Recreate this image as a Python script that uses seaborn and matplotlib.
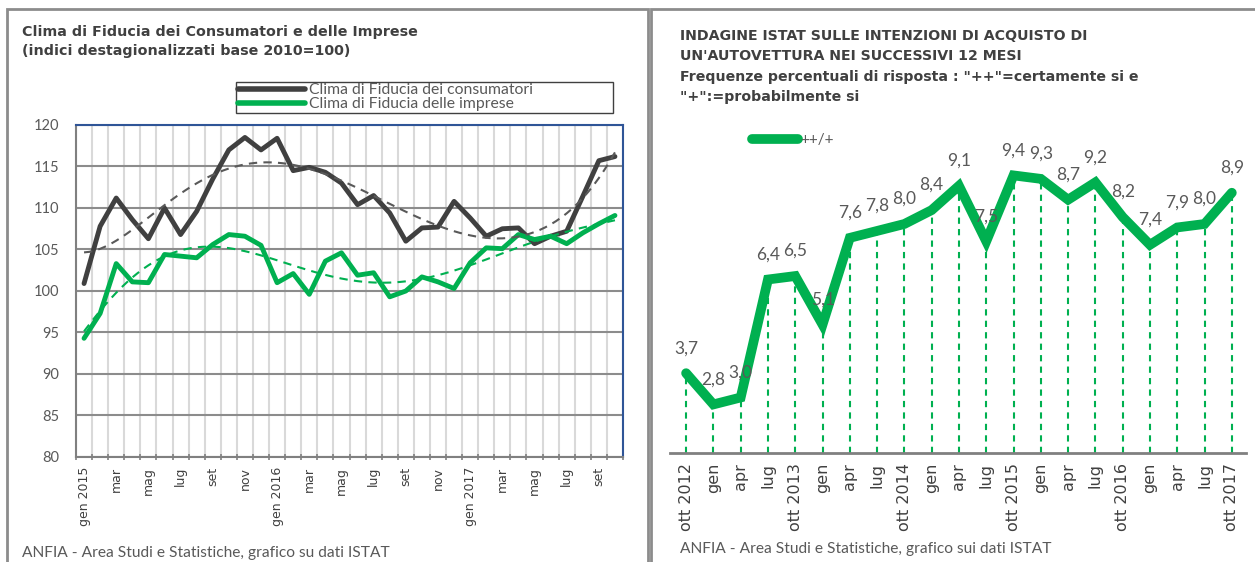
import numpy as np
import pandas as pd
import seaborn as sns
import matplotlib.pyplot as plt
from matplotlib.patches import Rectangle
from matplotlib.lines import Line2D

# --- dati pannello sinistro: clima di fiducia, gen 2015 - ott 2017 (mensili)
mesi = ["gen 2015", "feb", "mar", "apr", "mag", "giu", "lug", "ago", "set", "ott", "nov", "dic",
        "gen 2016", "feb", "mar", "apr", "mag", "giu", "lug", "ago", "set", "ott", "nov", "dic",
        "gen 2017", "feb", "mar", "apr", "mag", "giu", "lug", "ago", "set", "ott"]
consumatori = [100.9, 107.8, 111.2, 108.6, 106.3, 110.0, 106.8, 109.6, 113.5, 117.0, 118.5, 117.0,
               118.4, 114.5, 114.9, 114.3, 113.0, 110.4, 111.5, 109.4, 106.0, 107.6, 107.7, 110.8,
               108.8, 106.6, 107.5, 107.6, 105.7, 106.6, 107.2, 111.4, 115.7, 116.2]
imprese = [94.3, 97.3, 103.3, 101.1, 101.0, 104.4, 104.2, 104.0, 105.6, 106.8, 106.6, 105.5,
           101.0, 102.1, 99.6, 103.6, 104.6, 101.9, 102.2, 99.3, 100.0, 101.7, 101.1, 100.3,
           103.4, 105.2, 105.1, 106.8, 106.2, 106.6, 105.7, 107.0, 108.1, 109.1]

# --- dati pannello destro: intenzioni di acquisto (trimestrali)
trimestri = ["ott 2012", "gen", "apr", "lug", "ott 2013", "gen", "apr", "lug", "ott 2014",
             "gen", "apr", "lug", "ott 2015", "gen", "apr", "lug", "ott 2016", "gen", "apr",
             "lug", "ott 2017"]
acquisto = [3.7, 2.8, 3.0, 6.4, 6.5, 5.1, 7.6, 7.8, 8.0, 8.4, 9.1, 7.5, 9.4, 9.3, 8.7, 9.2,
            8.2, 7.4, 7.9, 8.0, 8.9]

sns.set_theme(style="white")
plt.rcParams['font.family'] = ['Lato', 'DejaVu Sans']

GRIGIO = "#404040"
TESTO = "#595959"
VERDE = "#00b050"
TITOLI = ['DejaVu Sans']

W, H = 1255, 562
fig = plt.figure(figsize=(W / 100, H / 100), dpi=100)

def fx(px):
    return px / W

def fy(py):
    return 1 - py / H

# cornici dei due pannelli
fig.patches.append(Rectangle((fx(7), fy(600)), fx(641), fy(9) - fy(600), transform=fig.transFigure,
                             fill=False, edgecolor="#8c8c8c", lw=2))
fig.patches.append(Rectangle((fx(651), fy(600)), fx(700), fy(9) - fy(600), transform=fig.transFigure,
                             fill=False, edgecolor="#8c8c8c", lw=2))

# ---------------- pannello sinistro
df1 = pd.DataFrame({"idx": np.arange(len(mesi)), "cons": consumatori, "imp": imprese})
ax1 = fig.add_axes([fx(76), fy(457), fx(623) - fx(76), fy(125) - fy(457)])

sns.lineplot(data=df1, x="idx", y="cons", ax=ax1, color=GRIGIO, lw=3.5, zorder=3)
sns.lineplot(data=df1, x="idx", y="imp", ax=ax1, color=VERDE, lw=3.5, zorder=3)
sns.regplot(data=df1, x="idx", y="cons", ax=ax1, order=6, scatter=False, ci=None, truncate=True,
            line_kws=dict(ls=(0, (4, 3)), lw=1.5, color="#595959", zorder=4))
sns.regplot(data=df1, x="idx", y="imp", ax=ax1, order=6, scatter=False, ci=None, truncate=True,
            line_kws=dict(ls=(0, (4, 3)), lw=1.5, color=VERDE, zorder=4))

ax1.set_xlim(-0.5, len(mesi) - 0.5)
ax1.set_ylim(80, 120)
ax1.set_yticks(np.arange(80, 121, 5))
ax1.set_xticks(np.arange(0, len(mesi), 2))
ax1.set_xticklabels(mesi[::2], rotation=90, fontsize=9, color=GRIGIO, family=TITOLI)
ax1.set_xticks(np.arange(-0.5, len(mesi), 1), minor=True)
ax1.tick_params(axis="y", labelsize=10.5, colors=TESTO, length=0, pad=12)
ax1.tick_params(axis="x", which="major", length=0, pad=7)
ax1.tick_params(axis="x", which="minor", bottom=True, length=5, direction="inout", color="#808080", width=1.2)
ax1.grid(axis="y", which="major", color="#8c8c8c", lw=1.5, zorder=0)
ax1.grid(axis="x", which="minor", color="#d9d9d9", lw=1.5, zorder=0)
ax1.set_axisbelow(True)
ax1.set_xlabel("")
ax1.set_ylabel("")
for s in ["left", "bottom"]:
    ax1.spines[s].set_color("#808080")
    ax1.spines[s].set_linewidth(1.5)
for s in ["top", "right"]:
    ax1.spines[s].set_color("#2f5597")
    ax1.spines[s].set_linewidth(1.5)

fig.text(fx(22), fy(32), "Clima di Fiducia dei Consumatori e delle Imprese", fontsize=10.3,
         fontweight="bold", color=GRIGIO, va="center", family=TITOLI)
fig.text(fx(22), fy(51), "(indici destagionalizzati base 2010=100)", fontsize=10.3,
         fontweight="bold", color=GRIGIO, va="center", family=TITOLI)

handles = [Line2D([], [], color=GRIGIO, lw=4, solid_capstyle="round"),
           Line2D([], [], color=VERDE, lw=4, solid_capstyle="round")]
fig.legend(handles, ["Clima di Fiducia dei consumatori", "Clima di Fiducia delle imprese"],
           loc="lower left", bbox_to_anchor=(fx(236), fy(113), fx(613) - fx(236), fy(80) - fy(113)),
           mode="expand", frameon=True, fancybox=False, edgecolor=GRIGIO, framealpha=1,
           fontsize=11.3, labelcolor=TESTO, handlelength=4.3, handletextpad=0.25,
           borderpad=0.1, labelspacing=0.0, borderaxespad=0)

fig.text(fx(22), fy(553), "ANFIA - Area Studi e Statistiche, grafico su dati ISTAT", fontsize=11.2,
         color=TESTO, va="center")

# ---------------- pannello destro
df2 = pd.DataFrame({"idx": np.arange(len(trimestri)), "val": acquisto})
ax2 = fig.add_axes([fx(670), fy(453), fx(1246) - fx(670), fy(130) - fy(453)])
y0 = 1.4
ax2.set_ylim(y0, y0 + (453 - 130) / 34.7)
ax2.set_xlim(-0.59, 20.52)
ax2.vlines(df2["idx"], y0, df2["val"], colors=VERDE, linestyles=(0, (3, 2.5)), lw=1.5, zorder=1)
sns.lineplot(data=df2, x="idx", y="val", ax=ax2, color=VERDE, lw=7, zorder=3,
             solid_joinstyle="miter", solid_capstyle="round", label="++/+")
for i, v in zip(df2["idx"], df2["val"]):
    ax2.annotate(f"{v:.1f}".replace(".", ","), (i, v), xytext=(0, 18), textcoords="offset points",
                 ha="center", va="center", fontsize=12.5, color=TESTO, zorder=5)

ax2.set_xticks(df2["idx"])
ax2.set_xticklabels(trimestri, rotation=90, fontsize=11.5, color=GRIGIO, family=TITOLI)
ax2.set_yticks([])
ax2.tick_params(axis="x", length=0, pad=7)
ax2.set_xlabel("")
ax2.set_ylabel("")
for s in ["left", "top", "right"]:
    ax2.spines[s].set_visible(False)
ax2.spines["bottom"].set_color("#808080")
ax2.spines["bottom"].set_linewidth(2)
ax2.legend(loc="center left", bbox_to_anchor=((752 - 670) / (1246 - 670), (453 - 140) / (453 - 130)),
           frameon=False, fontsize=11, labelcolor=TESTO, handlelength=3.0, handletextpad=0.15,
           borderaxespad=0, borderpad=0)

righe_titolo = ["INDAGINE ISTAT SULLE INTENZIONI DI ACQUISTO DI",
                "UN'AUTOVETTURA NEI SUCCESSIVI 12 MESI",
                "Frequenze percentuali di risposta : \"++\"=certamente si e",
                "\"+\":=probabilmente si"]
for k, riga in enumerate(righe_titolo):
    fig.text(fx(680), fy(36 + k * 20.5), riga, fontsize=10.2, fontweight="bold", color=GRIGIO,
             va="center", family=TITOLI)
fig.text(fx(680), fy(549), "ANFIA - Area Studi e Statistiche, grafico sui dati ISTAT", fontsize=11.2,
         color=TESTO, va="center")

fig.savefig("out.png", dpi=100)
